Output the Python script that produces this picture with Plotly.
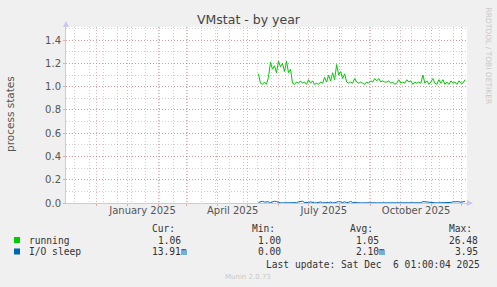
import pandas as pd
import plotly.graph_objects as go

# ---------------- data ----------------
start_date = "2025-05-12"
step_days = 2
running = [1.11, 1.03, 1.02, 1.04, 1.02, 1.08, 1.21, 1.15, 1.18, 1.12,
           1.22, 1.17, 1.20, 1.13, 1.22, 1.12, 1.15, 1.03, 1.02, 1.04,
           1.03, 1.05, 1.03, 1.04, 1.02, 1.06, 1.03, 1.05, 1.02, 1.03,
           1.02, 1.04, 1.03, 1.08, 1.04, 1.10, 1.05, 1.12, 1.06, 1.19,
           1.10, 1.13, 1.07, 1.11, 1.04, 1.03, 1.04, 1.03, 1.07, 1.04,
           1.03, 1.04, 1.03, 1.02, 1.04, 1.03, 1.05, 1.04, 1.07, 1.05,
           1.07, 1.04, 1.05, 1.04, 1.04, 1.05, 1.03, 1.04, 1.02, 1.03,
           1.06, 1.03, 1.04, 1.03, 1.06, 1.04, 1.05, 1.02, 1.04, 1.03,
           1.04, 1.03, 1.10, 1.03, 1.05, 1.02, 1.04, 1.07, 1.03, 1.02,
           1.06, 1.03, 1.06, 1.02, 1.04, 1.02, 1.05, 1.03, 1.04, 1.02,
           1.05, 1.03, 1.03, 1.06]
io_sleep = [0.005, 0.012, 0.015, 0.008, 0.012, 0.010, 0.003, 0.010, 0.015, 0.012,
            0.005, 0.002, 0.001, 0.002, 0.001, 0.000, 0.001, 0.002, 0.001, 0.003,
            0.010, 0.012, 0.015, 0.004, 0.002, 0.003, 0.010, 0.002, 0.001, 0.002,
            0.003, 0.009, 0.002, 0.001, 0.002, 0.003, 0.008, 0.002, 0.003, 0.010,
            0.012, 0.009, 0.004, 0.010, 0.003, 0.006, 0.013, 0.004, 0.002, 0.001,
            0.002, 0.001, 0.001, 0.002, 0.001, 0.002, 0.001, 0.001, 0.002, 0.001,
            0.001, 0.002, 0.001, 0.001, 0.002, 0.001, 0.001, 0.002, 0.001, 0.001,
            0.002, 0.001, 0.001, 0.002, 0.001, 0.001, 0.002, 0.001, 0.001, 0.002,
            0.001, 0.002, 0.012, 0.010, 0.004, 0.008, 0.002, 0.001, 0.002, 0.001,
            0.001, 0.002, 0.001, 0.002, 0.001, 0.002, 0.005, 0.010, 0.012, 0.008,
            0.011, 0.006, 0.010, 0.014]

series_names = ["running", "I/O sleep"]
series_colors = ["#00CC00", "#0066B3"]
stat_headers = ["Cur:", "Min:", "Avg:", "Max:"]
stats = [["1.06", "1.00", "1.05", "26.48"],
         ["13.91m", "0.00", "2.10m", "3.95"]]
x_start = "2024-11-01 01:00"
x_end = "2025-12-06 01:00"
month_starts = pd.date_range("2024-12-01", "2025-12-01", freq="MS")
biweekly = pd.date_range("2024-11-10", "2025-12-06", freq="14D")
label_dates = ["2025-01-16 08:00", "2025-04-16 08:00", "2025-07-16 08:00", "2025-10-16 08:00"]
label_texts = ["January 2025", "April 2025", "July 2025", "October 2025"]
y_ticks = [0.0, 0.2, 0.4, 0.6, 0.8, 1.0, 1.2, 1.4]

dates = pd.date_range(start_date, periods=len(running), freq=f"{step_days}D")

# ---------------- layout geometry ----------------
W, H = 497, 287
L, R, T, B = 66, 467, 27, 203
pw, ph = R - L, B - T


def px(x):
    return (x - L) / pw


def py(y):
    return (B - y) / ph


FONT = "DejaVu Sans, sans-serif"
MONO = "DejaVu Sans Mono, monospace"
MAJ = "rgba(225,110,110,0.55)"
MIN = "rgba(150,150,150,0.45)"
AXC = "#C8C8F0"

fig = go.Figure()
fig.add_trace(go.Scatter(x=dates, y=running, mode="lines", name=series_names[0],
                         line=dict(color=series_colors[0], width=1)))
fig.add_trace(go.Scatter(x=dates, y=io_sleep, mode="lines", name=series_names[1],
                         line=dict(color=series_colors[1], width=1)))

fig.update_layout(
    width=W, height=H,
    margin=dict(l=L, r=W - R, t=T, b=H - B, pad=0),
    paper_bgcolor="#F0F0F0", plot_bgcolor="#FFFFFF",
    showlegend=False,
    font=dict(family=FONT, size=10, color="#555555"),
    xaxis=dict(type="date", range=[x_start, x_end], tickmode="array",
               tickvals=list(month_starts), showticklabels=False,
               showgrid=True, gridcolor=MAJ, griddash="1px,2px", gridwidth=1,
               ticks="outside", ticklen=2, tickcolor=MAJ,
               minor=dict(tickmode="array", tickvals=list(biweekly), showgrid=True,
                          gridcolor=MIN, griddash="1px,2px", gridwidth=1),
               showline=True, linecolor=AXC, linewidth=1, zeroline=False, layer="above traces"),
    xaxis2=dict(type="date", overlaying="x", matches="x", side="bottom",
                tickmode="array", tickvals=label_dates, ticktext=label_texts,
                showgrid=False, ticks="", showline=False, zeroline=False,
                tickfont=dict(family=FONT, size=10, color="#555555")),
    yaxis=dict(range=[0, 1.513], tickmode="array", tickvals=y_ticks,
               tickformat=".1f", showgrid=True, gridcolor=MAJ, griddash="1px,2px",
               ticks="outside", ticklen=2, tickcolor=MAJ,
               minor=dict(dtick=0.1, tick0=0, showgrid=True, gridcolor=MIN, griddash="1px,2px"),
               showline=True, linecolor=AXC, linewidth=1, zeroline=False,
               tickfont=dict(family=FONT, size=10, color="#555555")),
)
# invisible trace on xaxis2 so it renders
fig.add_trace(go.Scatter(x=[x_start], y=[None], xaxis="x2", showlegend=False, hoverinfo="skip"))

shapes = []
# axis arrows
shapes.append(dict(type="path", xref="paper", yref="paper",
                   path=f"M {px(467)} {py(200)} L {px(473)} {py(203)} L {px(467)} {py(206)} Z",
                   fillcolor=AXC, line=dict(width=0)))
shapes.append(dict(type="path", xref="paper", yref="paper",
                   path=f"M {px(63)} {py(27)} L {px(66)} {py(21)} L {px(69)} {py(27)} Z",
                   fillcolor=AXC, line=dict(width=0)))
# legend squares
for i, c in enumerate(series_colors):
    yc = 240 + 11.5 * i
    shapes.append(dict(type="rect", xref="paper", yref="paper",
                       x0=px(14), x1=px(20), y0=py(yc + 3), y1=py(yc - 3),
                       fillcolor=c, line=dict(width=0)))
fig.update_layout(shapes=shapes)

ann = []
ann.append(dict(text="VMstat - by year", x=px(249), y=py(20), xref="paper", yref="paper",
                showarrow=False, xanchor="center", yanchor="middle",
                font=dict(family=FONT, size=12.5, color="#444444")))
ann.append(dict(text="process states", x=px(10), y=py(114), xref="paper", yref="paper",
                showarrow=False, textangle=-90, xanchor="center", yanchor="middle",
                font=dict(family=FONT, size=10.5, color="#555555")))
ann.append(dict(text="RRDTOOL / TOBI OETIKER", x=px(488), y=py(5), xref="paper", yref="paper",
                showarrow=False, textangle=90, xanchor="center", yanchor="top",
                font=dict(family=FONT, size=7.5, color="#C8C8C8")))

cw = 5.8
col_x = [150, 250, 348, 447]
for j, h in enumerate(stat_headers):
    ann.append(dict(text=h, x=px(col_x[j]), y=py(228), xref="paper", yref="paper",
                    showarrow=False, xanchor="left", yanchor="middle",
                    font=dict(family=MONO, size=9.6, color="#333333")))
for i, name in enumerate(series_names):
    yc = 240 + 11.5 * i
    ann.append(dict(text=name, x=px(27), y=py(yc), xref="paper", yref="paper",
                    showarrow=False, xanchor="left", yanchor="middle",
                    font=dict(family=MONO, size=9.6, color="#333333")))
    for j, v in enumerate(stats[i]):
        num = v.rstrip("m")
        off = (5 - len(num)) * cw
        ann.append(dict(text=v, x=px(col_x[j] + off), y=py(yc), xref="paper", yref="paper",
                        showarrow=False, xanchor="left", yanchor="middle",
                        font=dict(family=MONO, size=9.6, color="#333333")))
ann.append(dict(text="Last update: Sat Dec&nbsp;&nbsp;6 01:00:04 2025", x=px(482), y=py(264),
                xref="paper", yref="paper", showarrow=False, xanchor="right", yanchor="middle",
                font=dict(family=MONO, size=9.6, color="#333333")))
ann.append(dict(text="Munin 2.0.73", x=px(248), y=py(277), xref="paper", yref="paper",
                showarrow=False, xanchor="center", yanchor="middle",
                font=dict(family=FONT, size=7, color="#C8C8C8")))
fig.update_layout(annotations=ann)

fig.write_html("out.html")
